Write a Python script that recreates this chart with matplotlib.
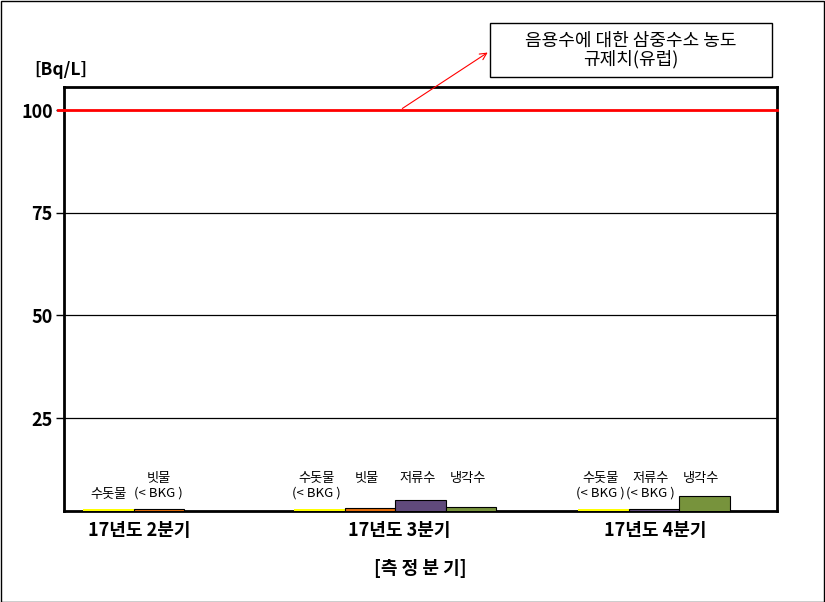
import matplotlib
matplotlib.use("Agg")
import matplotlib.pyplot as plt
from matplotlib.patches import Rectangle

plt.rcParams['font.family'] = ['Noto Sans CJK KR', 'DejaVu Sans']

# ---- data ----
quarters = ["17년도 2분기", "17년도 3분기", "17년도 4분기"]
group_series = [
    ["수돗물", "빗물"],
    ["수돗물", "빗물", "저류수", "냉각수"],
    ["수돗물", "저류수", "냉각수"],
]
group_values = [
    [2.9, 3.0],
    [2.9, 3.1, 5.1, 3.3],
    [2.9, 2.9, 6.1],
]
group_labels = [
    ["수돗물", "빗물\n(< BKG )"],
    ["수돗물\n(< BKG )", "빗물", "저류수", "냉각수"],
    ["수돗물\n(< BKG )", "저류수\n(< BKG )", "냉각수"],
]
limit_value = 100
limit_text = "음용수에 대한 삼중수소 농도\n규제치(유럽)"
yticks = [25, 50, 75, 100]
unit_label = "[Bq/L]"
xlabel = "[측 정 분 기]"

colors = {"수돗물": "#FFFF00", "빗물": "#E46C0A", "저류수": "#604A7B", "냉각수": "#77933C"}

# ---- layout (pixels) ----
W, H = 825, 602
fig = plt.figure(figsize=(W / 100, H / 100), dpi=100)
ax_l, ax_r, ax_t, ax_b = 64, 777, 87, 511
ax = fig.add_axes([ax_l / W, 1 - ax_b / H, (ax_r - ax_l) / W, (ax_b - ax_t) / H])
ax.set_xlim(0, ax_r - ax_l)
ax.set_ylim(2.4, 105.6)

group_start = [19, 230, 514]
bar_w = 50.5
cat_centers = [75, 335, 591]

def fx(x):
    return x / W

def fy(y):
    return 1 - y / H

for g, (names, vals, labs) in enumerate(zip(group_series, group_values, group_labels)):
    for i, (n, v, lab) in enumerate(zip(names, vals, labs)):
        x0 = group_start[g] + i * bar_w
        ec = 'none' if n == "수돗물" else 'black'
        ax.bar(x0, v, width=bar_w, align='edge', color=colors[n], edgecolor=ec,
               linewidth=0.8, zorder=3)
        xc = x0 + bar_w / 2 - (0 if g == 0 else 3)
        if g == 0 and i == 0:
            ytop = 488
        else:
            ytop = 472
        fig.text(fx(ax_l + xc), fy(ytop), lab, ha='center', va='top', fontsize=9.5,
                 linespacing=1.15)

# gridlines
for t in yticks[:-1]:
    ax.axhline(t, color='black', linewidth=0.9, zorder=1)
ax.axhline(limit_value, color='#FF0000', linewidth=2, zorder=4, clip_on=False)
ax.plot([-6, 0], [limit_value, limit_value], color='#FF0000', linewidth=2, clip_on=False, zorder=4)

ax.set_yticks(yticks)
ax.set_yticklabels([str(t) for t in yticks], fontsize=13, fontweight='bold')
ax.tick_params(axis='y', length=6, width=1, pad=2, direction='out')
ax.set_xticks([])
for s in ax.spines.values():
    s.set_linewidth(2)
    s.set_color('black')

# category labels
for c, q in zip(cat_centers, quarters):
    fig.text(fx(ax_l + c), fy(531), q, ha='center', va='center', fontsize=13, fontweight='bold')
fig.text(fx(420), fy(568), xlabel, ha='center', va='center', fontsize=13, fontweight='bold')
fig.text(fx(61), fy(70), unit_label, ha='center', va='center', fontsize=12.5, fontweight='bold')

# annotation box + arrow
fig.patches.append(Rectangle((fx(490), fy(77)), (772 - 490) / W, (77 - 23) / H,
                             transform=fig.transFigure, facecolor='white', edgecolor='black',
                             linewidth=1))
fig.text(fx(631), fy(50), limit_text, ha='center', va='center', fontsize=13, linespacing=1.05)
ax.annotate("", xy=(fx(490), fy(51)), xycoords='figure fraction',
            xytext=(400 - ax_l, limit_value), textcoords='data',
            arrowprops=dict(arrowstyle='->', color='#FF0000', lw=0.8, mutation_scale=12))

# outer border
fig.patches.append(Rectangle((0.5 / W, 0.5 / H), (W - 1.5) / W, (H - 1.5) / H,
                             transform=fig.transFigure, facecolor='none', edgecolor='black',
                             linewidth=1))

fig.savefig("out.png", dpi=100)
